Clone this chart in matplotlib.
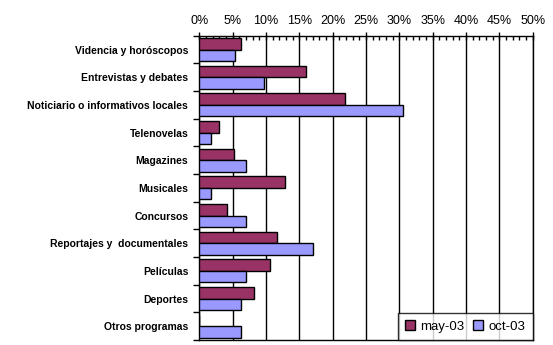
import matplotlib.pyplot as plt
import numpy as np
from matplotlib.ticker import MultipleLocator, FuncFormatter

plt.rcParams['font.family'] = ['Liberation Sans', 'DejaVu Sans']

categorias = ["Videncia y horóscopos", "Entrevistas y debates",
              "Noticiario o informativos locales", "Telenovelas", "Magazines",
              "Musicales", "Concursos", "Reportajes y  documentales",
              "Películas", "Deportes", "Otros programas"]
may_03 = [6.3, 16.0, 21.9, 2.9, 5.2, 12.9, 4.2, 11.6, 10.6, 8.2, 0.0]
oct_03 = [5.4, 9.7, 30.6, 1.8, 7.0, 1.8, 7.0, 17.1, 7.0, 6.3, 6.3]

fig = plt.figure(figsize=(5.53, 3.45), dpi=100)
ax = fig.add_axes([0.3604, 0.0145, 0.6029, 0.882])

y = np.arange(len(categorias))
h = 0.42
ax.barh(y - h / 2, may_03, height=h, color="#993366", edgecolor="black",
        linewidth=1, label="may-03", zorder=3)
ax.barh(y + h / 2, oct_03, height=h, color="#9999FF", edgecolor="black",
        linewidth=1, label="oct-03", zorder=3)

ax.set_xlim(0, 50)
ax.set_ylim(len(categorias) - 0.5, -0.5)
ax.xaxis.tick_top()
ax.xaxis.set_major_locator(MultipleLocator(5))
ax.xaxis.set_minor_locator(MultipleLocator(1))
ax.xaxis.set_major_formatter(FuncFormatter(lambda v, p: f"{v:.0f}%"))
ax.tick_params(axis="x", which="major", direction="inout", length=6,
               width=1, labelsize=9, pad=3)
ax.tick_params(axis="x", which="minor", direction="in", length=3, width=1)
ax.grid(axis="x", which="major", color="black", linewidth=1, zorder=0)

ax.set_yticks(y)
ax.set_yticklabels(categorias, fontweight="bold", fontsize=7.5)
ax.yaxis.set_minor_locator(MultipleLocator(1, offset=0.5))
ax.tick_params(axis="y", which="major", length=0, pad=8)
ax.tick_params(axis="y", which="minor", direction="out", length=4, width=1)

for s in ax.spines.values():
    s.set_color("black")
    s.set_linewidth(1)

leg = ax.legend(loc="lower right", ncol=2, fontsize=9.5, frameon=True,
                fancybox=False, edgecolor="black", handlelength=0.75,
                handleheight=0.75, handletextpad=0.4, columnspacing=0.7,
                borderpad=0.55, borderaxespad=0)
leg.get_frame().set_linewidth(1)

fig.savefig("out.png", dpi=100)
